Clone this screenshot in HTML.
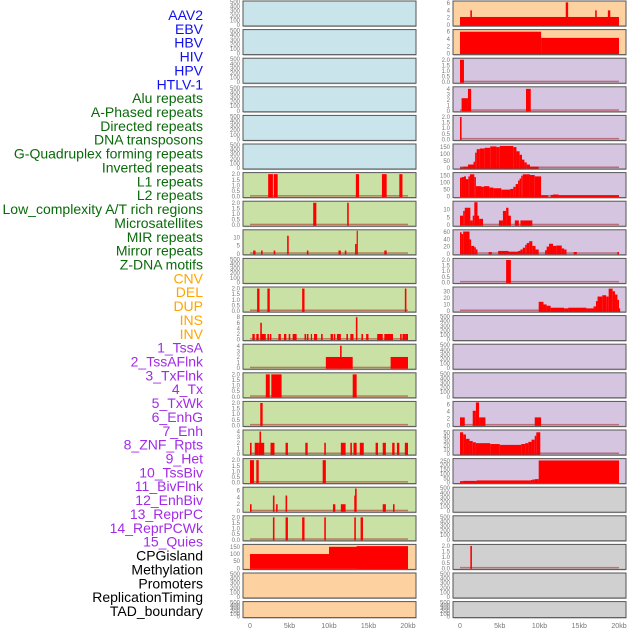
<!DOCTYPE html>
<html><head><meta charset="utf-8">
<style>
body{margin:0;background:#fff;width:630px;height:630px;overflow:hidden;font-family:"Liberation Sans",sans-serif;}
svg text{font-family:"Liberation Sans",sans-serif;}
</style></head>
<body>
<svg id="chart" width="630" height="630" xmlns="http://www.w3.org/2000/svg"></svg>
<script>
const labels=["AAV2","EBV","HBV","HIV","HPV","HTLV-1","Alu repeats","A-Phased repeats","Directed repeats","DNA transposons","G-Quadruplex forming repeats","Inverted repeats","L1 repeats","L2 repeats","Low_complexity A/T rich regions","Microsatellites","MIR repeats","Mirror repeats","Z-DNA motifs","CNV","DEL","DUP","INS","INV","1_TssA","2_TssAFlnk","3_TxFlnk","4_Tx","5_TxWk","6_EnhG","7_Enh","8_ZNF_Rpts","9_Het","10_TssBiv","11_BivFlnk","12_EnhBiv","13_ReprPC","14_ReprPCWk","15_Quies","CPGisland","Methylation","Promoters","ReplicationTiming","TAD_boundary"];
const labelColors=["#1010ee","#1010ee","#1010ee","#1010ee","#1010ee","#1010ee"].concat(Array(13).fill("#0a6a0a"),Array(5).fill("#ffa500"),Array(15).fill("#a22be8"),Array(5).fill("#000"));
const xTicks=[0,5,10,15,20];
const xTickLabels=["0","5kb","10kb","15kb","20kb"];
// panel: [ymax, tickValues, bars [startKb,endKb,value]]
const E=[500,[0,100,200,300,400,500],[]];
const B=[0,0.5,1,1.5,2];
const leftPanels=[
E,E,E,E,E,E,
[2.05,B,[[2.3,2.9,2],[3.0,3.5,2],[13.4,13.8,2],[16.7,17.3,2],[18.9,19.3,2]]],
[2.05,B,[[8.0,8.4,2],[12.3,12.5,2]]],
[14,[0,5,10],[[0.4,0.7,2],[1.4,1.6,2],[3.0,3.2,2],[4.7,4.9,11],[7.2,7.4,2],[11.2,11.5,2],[12.0,12.2,2],[13.3,13.5,6],[13.5,13.6,14],[17.0,17.3,2]]],
E,
[2.05,B,[[0.9,1.2,2],[2.2,2.5,2],[6.6,6.9,2],[19.6,19.8,2]]],
[8.2,[0,2,4,6,8],[[0.3,0.6,2],[0.8,1.1,2],[1.3,2.0,2],[1.3,1.5,6],[2.2,2.4,2],[2.5,2.7,2],[3.6,3.9,2],[4.3,4.6,2],[4.9,5.1,2],[5.4,5.9,2],[6.9,7.1,2],[7.2,7.4,2],[7.7,7.8,2],[8.1,8.5,2],[9.0,9.2,2],[10.2,10.5,2],[10.6,10.8,2],[11.0,11.5,2],[12.2,12.4,2],[12.7,13.1,2],[13.4,13.6,8],[14.1,14.3,2],[14.7,15.0,2],[16.1,16.8,2],[17.0,18.1,2],[19.0,19.2,2],[19.3,19.7,2],[19.7,20.0,2]]],
[4.1,[0,1,2,3,4],[[9.6,13.0,2],[11.4,11.6,4],[17.8,20.0,2]]],
[2.05,B,[[2.0,2.5,2],[2.7,4.0,2],[13.0,13.5,2]]],
[2.05,B,[[1.3,1.6,2]]],
[4.1,[0,1,2,3,4],[[0,0.2,2],[0.6,1.1,2],[1.1,1.8,2],[1.2,1.4,4],[2.6,3.1,2],[4.5,4.8,2],[7.0,7.3,2],[9.4,9.6,2],[11.5,12.1,2],[12.7,12.9,2],[13.1,13.5,2],[13.9,14.4,2],[15.9,16.2,2],[16.8,17.2,2],[18.0,18.3,2],[18.6,18.9,2],[19.6,20.0,2]]],
[2.05,B,[[0,0.5,2],[0.8,1.1,2],[9.2,9.6,2]]],
[6.6,[0,2,4,6],[[0,0.2,2],[2.9,3.1,4.5],[3.3,3.5,2],[4.5,4.7,4.5],[10.5,10.8,2],[11.5,12.1,2],[13.2,13.4,4.5],[13.3,13.5,6.5],[16.8,17.2,2],[18.1,18.3,2]]],
[2.05,B,[[2.9,3.1,2],[4.5,4.8,2],[6.6,6.9,2],[9.4,9.6,2],[13.2,13.4,2],[14.0,14.3,2]]],
[160,[0,50,100,150],[[0,10.0,100],[10.0,20.0,150],[13.5,20.0,155]]],
E,E
];
const rightPanels=[
[6.3,[0,2,4,6],[[0,20,2.2],[1.3,1.5,4],[13.3,13.6,6.2],[17.0,17.2,4],[18.6,18.9,4]]],
[6.3,[0,2,4,6],[[0,10.2,6],[10.2,20,4.3]]],
[2.05,B,[[0,0.5,2]]],
[4.2,[0,1,2,3,4],[[0.2,1.0,2.3],[1.0,1.4,4],[8.3,8.9,4]]],
[2.05,B,[[0,0.2,2]]],
[165,[0,50,100,150],[[0,0.4,5],[0.4,1.0,10],[1.0,1.7,25],[1.7,1.9,45],[1.9,2.1,110],[2.1,2.5,135],[2.5,3.1,140],[3.1,3.8,145],[3.8,4.6,155],[4.6,5.0,150],[5.0,6.7,158],[6.7,7.1,150],[7.1,7.5,120],[7.5,7.8,95],[7.8,8.1,60],[8.1,8.4,40],[8.4,8.8,25],[8.8,9.9,10]]],
[165,[0,50,100,150],[[0,0.2,135],[0.2,0.5,140],[0.5,0.75,145],[0.75,1.05,125],[1.05,1.25,145],[1.25,1.8,160],[1.8,2.0,140],[2.0,2.7,75],[2.7,3.0,70],[3.0,3.7,75],[3.7,4.2,65],[4.2,5.2,60],[5.2,6.3,50],[6.3,6.7,55],[6.7,7.0,70],[7.0,7.3,90],[7.3,7.5,115],[7.5,7.7,130],[7.7,7.9,150],[7.9,8.8,160],[8.8,9.4,155],[9.4,10.2,145],[10.2,11.1,10],[11.4,11.7,12],[11.7,12.4,15],[12.4,20,10]]],
[14.5,[0,5,10],[[0,0.4,6],[0.4,0.6,9],[0.6,1.3,11],[1.3,1.6,3],[1.6,1.8,6],[1.8,2.2,14.5],[2.2,2.4,6],[2.4,2.9,4],[4.9,5.4,3],[5.4,5.8,9],[5.8,6.1,11],[6.1,6.4,6],[6.9,7.4,3],[7.6,9.1,3]]],
[64,[0,20,40,60],[[0,0.2,60],[0.2,0.4,55],[0.4,1.2,62],[1.2,1.4,40],[1.4,1.8,22],[1.8,2.0,18],[2.0,2.2,12],[3.6,4.0,5],[4.8,6.1,8],[6.1,7.3,6],[7.3,7.6,8],[7.6,7.9,12],[7.9,8.2,17],[8.2,8.4,25],[8.4,8.7,30],[8.7,9.1,35],[9.1,9.5,22],[9.5,9.9,12],[10.7,10.9,10],[10.9,11.2,20],[11.2,11.7,28],[11.7,12.1,22],[12.1,12.8,23],[12.8,13.1,15],[13.1,13.4,12],[14.3,14.7,5],[19.8,20.0,5]]],
[2.05,B,[[5.8,6.4,2]]],
[35,[0,10,20,30],[[9.9,10.5,14],[10.5,10.9,10],[10.9,11.4,8],[11.4,13.1,5],[13.1,13.6,4],[13.6,15.9,5],[15.9,16.8,4],[16.8,17.1,7],[17.1,17.3,15],[17.3,17.9,22],[17.9,18.4,24],[18.4,18.7,22],[18.7,19.2,34],[19.2,19.5,30],[19.5,19.8,25],[19.8,20.0,17],[20.0,20.1,4]]],
E,E,E,
[6.6,[0,2,4,6],[[0,0.6,2.3],[1.6,2.0,4.2],[2.0,2.4,6.6],[2.4,3.2,2.3],[9.4,10.2,2.3]]],
[53,[0,10,20,30,40,50],[[0,0.4,50],[0.4,0.75,45],[0.75,1.2,35],[1.2,1.6,30],[1.6,2.0,27],[2.0,3.8,25],[3.8,5.0,23],[5.0,7.7,21],[7.7,8.2,23],[8.2,8.6,25],[8.6,9.0,28],[9.0,9.4,33],[9.4,9.6,42],[9.6,10.1,50]]],
[265,[0,50,100,150,200,250],[[0,0.4,15],[0.4,2.1,20],[2.1,8.9,25],[8.9,9.1,30],[9.1,9.4,35],[9.4,9.9,40],[9.9,20,255]]],
E,E,
[2.05,B,[[1.3,1.5,2]]],
E,E
];
const leftColors=Array(6).fill("#c9e4ea").concat(Array(13).fill("#c9e1a5"),Array(3).fill("#fdd1a0"));
const rightColors=Array(2).fill("#fdd1a0").concat(Array(15).fill("#d6c5e1"),Array(5).fill("#d0d0d0"));

const NS="http://www.w3.org/2000/svg";
const svg=document.getElementById("chart");
function mk(tag,attrs,parent){const e=document.createElementNS(NS,tag);for(const k in attrs)e.setAttribute(k,attrs[k]);(parent||svg).appendChild(e);return e;}

// labels
labels.forEach((t,i)=>{
  const el=mk("text",{x:203,y:15+i*13.86+5,"text-anchor":"end","font-size":"14",fill:labelColors[i]});
  el.textContent=t;
  
  
});

function drawCol(panels,colors,x0,x1,zeroX,kbPx,colName){
  const xs=kb=>zeroX+kb*kbPx;
  panels.forEach((p,i)=>{
    const top=1+i*28.6, h=(i===21)?16:25;
    const g=mk("g",{});
    
    
    mk("rect",{x:x0+0.5,y:top+1,width:x1-x0,height:h,fill:"#bbb"},g);
    mk("rect",{x:x0,y:top,width:x1-x0,height:h,fill:colors[i],stroke:"#555","stroke-width":1},g);
    const [ymax,ticks,bars]=p;
    const yb=top+h-1, ph=h-2;
    const ys=v=>yb-v/ymax*ph;
    ticks.forEach(t=>{
      const tl=mk("text",{x:x0-3,y:ys(t)+2,"text-anchor":"end","font-size":"6",fill:"#777"},g);
      tl.textContent=(ticks===B)?t.toFixed(1):String(t);
      
      
    });
    if(bars.length){
      const bl=mk("rect",{x:xs(0),y:yb-1.5,width:xs(20)-xs(0),height:1.5,fill:"rgba(160,0,0,0.45)"},g);
      
      
    }
    bars.forEach(b=>{
      const r=mk("rect",{x:xs(b[0]),y:ys(b[2]),width:Math.max(1.2,xs(b[1])-xs(b[0])),height:yb-ys(b[2])+0.5,fill:"#ff0000"},g);
      
      
    });
  });
  xTicks.forEach((t,i)=>{
    const tl=mk("text",{x:xs(t),y:628,"text-anchor":"middle","font-size":"7",fill:"#777"});
    tl.textContent=xTickLabels[i];
    
    
  });
}
drawCol(leftPanels,leftColors,243,416,250,7.9,"left");
drawCol(rightPanels,rightColors,453,626,460,7.95,"right");
</script>
</body></html>
